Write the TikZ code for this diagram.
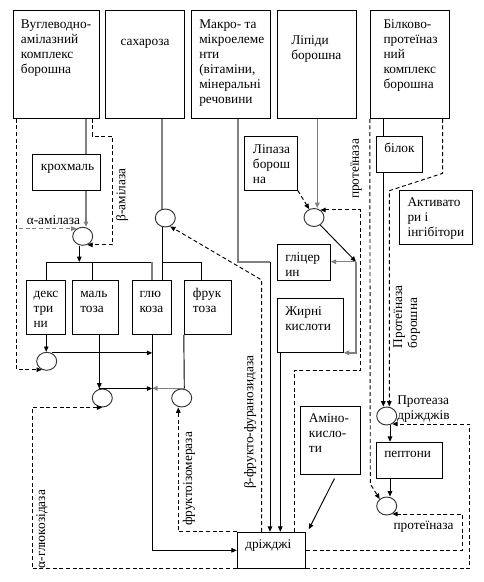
\documentclass[tikz,border=0pt]{standalone}
\usepackage{fontspec}
\setmainfont{Liberation Serif}
\usetikzlibrary{arrows.meta,shapes.geometric,fit}
\newcommand\fs{\fontsize{10}{11.25}\selectfont}
\newcommand\ml[1]{\parbox[t]{4cm}{\raggedright #1}}
\begin{document}
\begin{tikzpicture}[x=0.75pt,y=-0.75pt,
  bx/.style={draw, line width=0.75pt, inner sep=0pt},
  circ/.style={ellipse, draw=black!80, line width=0.7pt, inner sep=0pt, minimum width=15pt, minimum height=13.5pt},
  tx/.style={font=\fs, inner sep=0pt, anchor=base west},
  rtx/.style={font=\fs, inner sep=0pt, rotate=90},
  ln/.style={line width=0.7pt},
  gl/.style={line width=1.1pt, draw=gray},
  dl/.style={line width=0.7pt, dash pattern=on 3pt off 2pt},
  ar/.style={-{Triangle[length=4pt,width=3.4pt]}},
]
\fill[white] (0,0) rectangle (483,582);
\useasboundingbox (0,0) rectangle (483,582);

% boxes
\node[bx, fit={(13.3,10.3) (99.3,118.3)}] (b1) {};
\node[bx, fit={(105.7,10.3) (184.3,118.3)}] (b2) {};
\node[bx, fit={(191.7,10.3) (270.7,118.3)}] (b3) {};
\node[bx, fit={(277.3,10.3) (356.3,118.3)}] (b4) {};
\node[bx, fit={(370.3,10.3) (449.3,118.3)}] (b5) {};
\node[bx, fit={(32.3,154.3) (100.3,190.3)}] (bk) {};
\node[bx, fit={(26.7,280.7) (65.7,334.3)}] (dex) {};
\node[bx, fit={(72.7,280.7) (118.7,334.3)}] (mal) {};
\node[bx, fit={(132.7,280.7) (171.7,334.3)}] (glu) {};
\node[bx, fit={(184.3,280.7) (231.3,334.3)}] (fru) {};
\node[bx, fit={(244.3,136) (297.3,190)}] (lipa) {};
\node[bx, fit={(277.3,244) (330.3,280.3)}] (gli) {};
\node[bx, fit={(277.3,298.3) (343.3,352.3)}] (zh) {};
\node[bx, fit={(376.7,136) (422.3,172.7)}] (bil) {};
\node[bx, fit={(399.3,190) (472.3,244.3)}] (act) {};
\node[bx, fit={(376.7,442.3) (442.3,478.3)}] (pep) {};
\node[bx, fit={(300.7,406) (360.3,474)}] (am) {};
\node[bx, fit={(237.3,532.3) (305.7,568.3)}] (dr) {};

% circles
\node[circ] (cam) at (82.7,236.3) {};
\node[circ] (csuc) at (165.3,218) {};
\node[circ] (cdex) at (46.7,361.3) {};
\node[circ] (cmal) at (102.3,398) {};
\node[circ] (cfru) at (181.7,398) {};
\node[circ] (clip) at (314,217.5) {};
\node[circ] (cp1) at (386.7,416) {};
\node[circ] (cp2) at (386.7,506) {};

% texts
\node[tx] (t1) at (20.7,28) {\ml{Вуглеводно-\\амілазний\\комплекс\\борошна}};
\node[tx, anchor=base] (t2) at (145,45) {сахароза};
\node[tx] (t3) at (199,28) {\ml{Макро- та\\мікроелеме\\нти\\(вітаміни,\\мінеральні\\речовини}};
\node[tx] (t4) at (291,44.5) {\ml{Ліпіди\\борошна}};
\node[tx] (t5) at (383.3,28) {\ml{Білково-\\протеїназ\\ний\\комплекс\\борошна}};
\node[tx, anchor=base] (tk) at (67.5,170.5) {крохмаль};
\node[rtx] (lba) at (122,195) {β-амілаза};
\node[tx] (laa) at (26.5,224.5) {α-амілаза};
\node[tx] (tdex) at (33.3,297) {\ml{декс\\три\\ни}};
\node[tx] (tmal) at (80,297) {\ml{маль\\тоза}};
\node[tx] (tglu) at (139.3,297) {\ml{глю\\коза}};
\node[tx] (tfru) at (192.7,297) {\ml{фрук\\тоза}};
\node[tx] (tlipa) at (252.7,153) {\ml{Ліпаза\\борош\\на}};
\node[tx] (tgli) at (285,261) {\ml{гліцер\\ин}};
\node[tx] (tzh) at (285,315) {\ml{Жирні\\кислоти}};
\node[tx] (tbil) at (384,152.5) {білок};
\node[tx] (tact) at (407.3,206) {\ml{Активато\\ри і\\інгібітори}};
\node[tx] (tpd) at (397,404.5) {\ml{Протеаза\\дріжджів}};
\node[tx] (tpep) at (384,457) {пептони};
\node[tx] (tprb) at (393.3,529.5) {протеїназа};
\node[tx] (tam) at (308.7,422) {\ml{Аміно-\\кисло-\\ти}};
\node[tx] (tdr) at (245,548.5) {дріжджі};
\node[rtx] (lpt) at (356,169) {протеїназа};
\node[rtx] (lbf) at (250,422) {β-фрукто-фуранозидаза};
\node[rtx] (lfi) at (189,479) {фруктоізомераза};
\node[rtx] (lag) at (42,529) {α-глюкозідаза};
\node[font=\fs, inner sep=0pt, rotate=90, anchor=base west] (lpb) at (402,348.3) {\ml{Протеїназа\\борошна}};

% junction coordinates
\coordinate (jbar) at (79.3,262);
\coordinate (jfru) at (184.3,388.3);
\coordinate (jmac) at (270,262);
\coordinate (jlip) at (356,261.7);

% left part
\draw[gl] (86,0 |- b1.south) -- (86,0 |- bk.north);
\draw[gl,ar] (86,0 |- bk.south) -- (cam.north -| 86,0);
\draw[dl,ar] (92,0 |- b1.south) -- (92,136) -- (112.7,136) -- (112.7,0 |- cam.-62) -- (cam.-62);
\draw[dl,ar,draw=gray] (19,0 |- cam.129) -- (cam.129);
\draw[ln,ar] (79.3,0 |- cam.south) -- (jbar);
\draw[ln] (dex.north) -- (dex.north |- jbar) -- (glu.north |- jbar);
\draw[ln] (92.3,0 |- jbar) -- (92.3,0 |- mal.north);
\draw[gl] (glu.north |- jbar) -- (glu.north);
\draw[gl] (162,0 |- b2.south) -- (162,0 |- csuc.north);
\draw[ln] (162,0 |- csuc.south) -- (162,0 |- glu.north);
\draw[ln] (162,0 |- jbar) -- (201,0 |- jbar) -- (201,0 |- fru.north);
\draw[ln,ar] (dex.south) -- (dex.south |- cdex.north);
\draw[ln,ar] (cdex.60) -- (cdex.60 -| glu.south);
\draw[ln,ar] (99.3,0 |- mal.south) -- (99.3,0 |- cmal.north);
\draw[ln,ar] (99.3,0 |- cmal.north) -- (cmal.north -| glu.south);
\draw[ln] (fru.south west) -- (jfru);
\draw[gl,ar] (jfru) -- (jfru -| glu.south);
\draw[ln,ar] (glu.south) -- (glu.south |- dr.west) -- (dr.west);
\draw[dl,ar] (dr.north west) -- (178.3,0 |- dr.north west) -- (178.3,0 |- cfru.south);
\draw[dl,ar] (dr.south west) -- (32.3,0 |- dr.south west) -- (32.3,0 |- cmal.south) -- (cmal.south);
\draw[dl,ar] (16.3,0 |- b1.south) -- (16.3,0 |- cdex.240) -- (cdex.240);

% middle part
\draw[gl] (238,0 |- b3.south) -- (238,0 |- jmac) -- (jmac);
\draw[ln,ar] (jmac) -- (jmac |- dr.north);
\draw[ln,ar] (280.3,0 |- zh.south) -- (280.3,0 |- dr.north);
\draw[dl,ar] (261.7,0 |- dr.north) -- (261.7,280) -- (csuc.-60);
\draw[gl,ar] (317.3,0 |- b4.south) -- (317.3,0 |- clip.north);
\draw[dl,ar] (lipa.south east) -- (clip.120);
\draw[dl,ar] (294.3,0 |- dr.north) -- (294.3,370) -- (360.7,370) -- (360.7,0 |- clip.50) -- (clip.50);
\draw[ln,ar] (clip.-50) -- (jlip);
\draw[gl,ar] (jlip) -- (jlip -| gli.east);
\draw[gl,ar] (jlip) -- (jlip |- zh.south) -- (zh.south east);
\draw[ln,ar] ([xshift=3pt,yshift=-3pt]am.south) -- ([xshift=2pt,yshift=2pt]dr.north east);

% right part
\draw[ln] (383.3,0 |- b5.south) -- (383.3,0 |- bil.north);
\draw[ln,ar] (383.3,0 |- bil.south) -- (383.3,0 |- cp1.north);
\draw[dl,ar] (442.7,0 |- b5.south) -- (442.7,173.3) -- (389.3,190.7) -- (389.3,0 |- cp1.north);
\draw[dl,ar] (b5.south west) -- (370.3,484) -- (cp2.135);
\draw[ln,ar] (390,0 |- cp1.south) -- (390,0 |- pep.north);
\draw[ln,ar] (390,0 |- pep.south) -- (390,0 |- cp2.north);
\draw[dl,ar] (dr.south east) -- (469.3,0 |- dr.south east) -- (469.3,0 |- cp1.-55) -- (cp1.-55);
\draw[dl,ar] (dr.east) -- (462,0 |- dr.east) -- (462,0 |- cp2.-55) -- (cp2.-55);
\end{tikzpicture}
\end{document}
